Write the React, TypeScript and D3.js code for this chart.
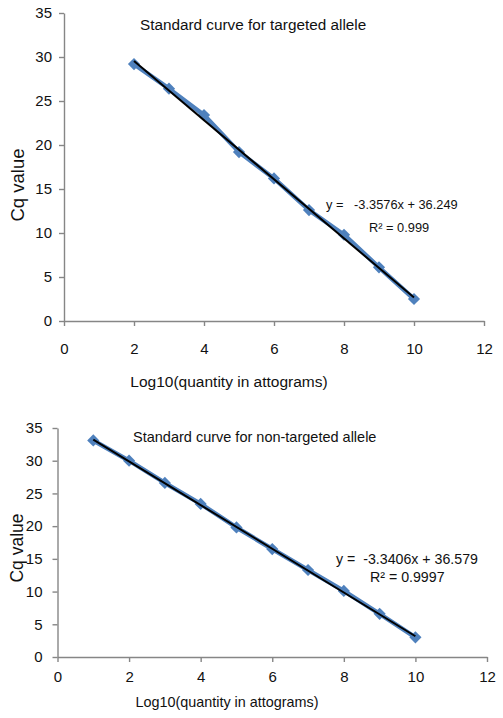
import React, { useEffect, useRef } from "react";
import * as d3 from "d3";

const topX = [2, 3, 4, 5, 6, 7, 8, 9, 10];
const topY = [29.2, 26.4, 23.4, 19.2, 16.2, 12.6, 9.8, 6.1, 2.5];
const topSlope = -3.3576;
const topIntercept = 36.249;

const botX = [1, 2, 3, 4, 5, 6, 7, 8, 9, 10];
const botY = [33.1, 30.0, 26.6, 23.4, 19.8, 16.5, 13.3, 10.1, 6.6, 3.0];
const botSlope = -3.3406;
const botIntercept = 36.579;

const xTicks = [0, 2, 4, 6, 8, 10, 12];
const yTicks = [0, 5, 10, 15, 20, 25, 30, 35];

const FONT = "'Liberation Sans', Arial, sans-serif";
const AXIS = "#868686";
const BLUE = "#4f81bd";

type Panel = {
  xs: number[];
  ys: number[];
  slope: number;
  intercept: number;
  title: string;
  titleSize: number;
  xRange: [number, number];
  yRange: [number, number];
  yPad: number;
  xPad: number;
  titlePos: [number, number];
  xTitlePos: [number, number];
  xTitleSize: number;
  yTitlePos: [number, number];
  yTitleSize: number;
  eq1: string;
  eq1Pos: [number, number];
  eq2Pos: [number, number];
  eqSize: number;
  r2: string;
};

const panels: Panel[] = [
  {
    xs: topX,
    ys: topY,
    slope: topSlope,
    intercept: topIntercept,
    title: "Standard curve for targeted allele",
    titleSize: 15.3,
    xRange: [64, 484],
    yRange: [321, 13],
    yPad: 7,
    xPad: 17,
    titlePos: [140, 30],
    xTitlePos: [229, 387],
    xTitleSize: 15.5,
    yTitlePos: [24, 185],
    yTitleSize: 18.5,
    eq1: "y =   -3.3576x + 36.249",
    eq1Pos: [326, 209],
    eq2Pos: [369, 232],
    eqSize: 12.8,
    r2: "R² = 0.999",
  },
  {
    xs: botX,
    ys: botY,
    slope: botSlope,
    intercept: botIntercept,
    title: "Standard curve for non-targeted allele",
    titleSize: 14.5,
    xRange: [57.5, 487],
    yRange: [657, 428],
    yPad: 10,
    xPad: 9,
    titlePos: [133, 442],
    xTitlePos: [227, 707],
    xTitleSize: 14.4,
    yTitlePos: [23, 548],
    yTitleSize: 17.5,
    eq1: "y =  -3.3406x + 36.579",
    eq1Pos: [336, 564],
    eq2Pos: [370, 582],
    eqSize: 14.2,
    r2: "R² = 0.9997",
  },
];

export default function App() {
  const ref = useRef<SVGSVGElement>(null);

  useEffect(() => {
    const svg = d3.select(ref.current);
    svg.selectAll("*").remove();

    panels.forEach((p) => {
      const x = d3.scaleLinear().domain([0, 12]).range(p.xRange);
      const y = d3.scaleLinear().domain([0, 35]).range(p.yRange);
      const g = svg.append("g");

      const ya = g
        .append("g")
        .attr("transform", `translate(${p.xRange[0]},0)`)
        .call(d3.axisLeft(y).tickValues(yTicks).tickSize(5).tickPadding(p.yPad).tickSizeOuter(0));
      const xa = g
        .append("g")
        .attr("transform", `translate(0,${p.yRange[0]})`)
        .call(d3.axisBottom(x).tickValues(xTicks).tickSize(5).tickPadding(p.xPad).tickSizeOuter(0));
      [ya, xa].forEach((a) => {
        a.select(".domain").attr("stroke", AXIS).attr("stroke-width", 1.4);
        a.selectAll(".tick line").attr("stroke", AXIS).attr("stroke-width", 1.4);
        a.selectAll(".tick text")
          .attr("fill", "#111")
          .style("font-family", FONT)
          .style("font-size", "15px");
      });

      // data line
      const pts = p.xs.map((v, i) => [v, p.ys[i]] as [number, number]);
      const line = d3
        .line<[number, number]>()
        .x((d) => x(d[0]))
        .y((d) => y(d[1]));
      g.append("path")
        .attr("d", line(pts))
        .attr("fill", "none")
        .attr("stroke", BLUE)
        .attr("stroke-width", 4.5)
        .attr("stroke-linejoin", "round");
      const sym = d3.symbol().type(d3.symbolDiamond2).size(95);
      g.selectAll(".pt")
        .data(pts)
        .enter()
        .append("path")
        .attr("d", sym)
        .attr("transform", (d) => `translate(${x(d[0])},${y(d[1])})`)
        .attr("fill", BLUE);

      // trendline
      const x0 = d3.min(p.xs)!;
      const x1 = d3.max(p.xs)!;
      const trend: [number, number][] = [
        [x0, p.slope * x0 + p.intercept],
        [x1, p.slope * x1 + p.intercept],
      ];
      g.append("path")
        .attr("d", line(trend))
        .attr("fill", "none")
        .attr("stroke", "#000")
        .attr("stroke-width", 2);

      const txt = (s: string, pos: [number, number], size: number, anchor = "start") =>
        g
          .append("text")
          .attr("x", pos[0])
          .attr("y", pos[1])
          .attr("text-anchor", anchor)
          .attr("fill", "#111")
          .style("font-family", FONT)
          .style("font-size", `${size}px`)
          .style("white-space", "pre")
          .text(s);

      txt(p.title, p.titlePos, p.titleSize);
      txt("Log10(quantity in attograms)", p.xTitlePos, p.xTitleSize, "middle");
      txt(p.eq1, p.eq1Pos, p.eqSize);
      txt(p.r2, p.eq2Pos, p.eqSize);
      g.append("text")
        .attr("transform", `translate(${p.yTitlePos[0]},${p.yTitlePos[1]}) rotate(-90)`)
        .attr("text-anchor", "middle")
        .attr("fill", "#111")
        .style("font-family", FONT)
        .style("font-size", `${p.yTitleSize}px`)
        .text("Cq value");
    });
  }, []);

  return (
    <svg
      ref={ref}
      width={503}
      height={718}
      style={{ position: "absolute", left: 0, top: 0, background: "#fff" }}
    />
  );
}
